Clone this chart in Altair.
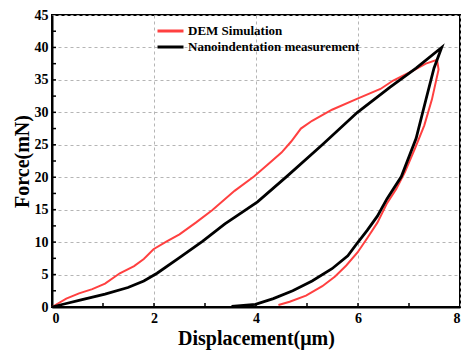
import altair as alt
import pandas as pd

# DEM simulation curve (loading then unloading), displacement (µm) / force (mN)
red_x = [0, 0.28, 0.53, 0.79, 1.04, 1.33, 1.61, 1.80, 1.99, 2.25, 2.5, 2.82, 3.14, 3.58,
         3.96, 4.22, 4.5, 4.69, 4.88, 5.1, 5.49, 5.99, 6.44, 6.69, 7.0, 7.33, 7.55,
         7.58, 7.45, 7.3, 7.12, 6.92, 6.75, 6.57, 6.38, 6.18, 5.99, 5.77, 5.55, 5.3,
         4.98, 4.66, 4.44]
red_y = [0, 1.28, 2.1, 2.75, 3.6, 5.2, 6.3, 7.4, 8.9, 10.1, 11.2, 13.0, 14.9, 17.9,
         20.1, 21.9, 23.8, 25.5, 27.5, 28.7, 30.4, 32.1, 33.6, 34.9, 36.1, 37.5, 38.1,
         36.6, 32.0, 28.0, 24.5, 20.8, 18.2, 16.0, 13.0, 10.6, 8.4, 6.4, 4.7, 3.2,
         1.76, 0.8, 0.3]

# Nanoindentation measurement curve
blk_x = [0, 0.28, 0.53, 1.04, 1.49, 1.8, 2.06, 2.5, 2.95, 3.39, 3.58, 4.03, 4.6, 5.3,
         5.99, 6.63, 7.14, 7.64, 7.49, 7.33, 7.14, 6.85, 6.57, 6.38, 6.18, 5.99, 5.8,
         5.49, 5.1, 4.72, 4.34, 3.99, 3.52]
blk_y = [0, 0.54, 1.03, 2.0, 3.0, 4.0, 5.2, 7.6, 10.1, 12.8, 13.8, 16.2, 20.1, 25.0,
         30.0, 33.9, 36.8, 40.0, 36.8, 31.9, 26.0, 20.1, 16.7, 14.0, 11.8, 9.9, 7.9,
         5.9, 4.0, 2.5, 1.3, 0.4, 0.1]

series = ["DEM Simulation", "Nanoindentation measurement"]
colors = ["#ff4040", "#000000"]

x_ticks = [0, 2, 4, 6, 8]
y_ticks = [0, 5, 10, 15, 20, 25, 30, 35, 40, 45]
x_minor = [1, 2, 3, 4, 5, 6, 7]
y_minor = [2.5, 5, 7.5, 10, 12.5, 15, 17.5, 20, 22.5, 25, 27.5, 30, 32.5, 35, 37.5, 40, 42.5]

W, H = 408, 292
FONT = "Liberation Serif"

red_df = pd.DataFrame({"x": red_x, "y": red_y, "i": range(len(red_x)), "s": series[0]})
blk_df = pd.DataFrame({"x": blk_x, "y": blk_y, "i": range(len(blk_x)), "s": series[1]})

xs = alt.Scale(domain=[0, 8], nice=False)
ys = alt.Scale(domain=[0, 45], nice=False)

xaxis = alt.Axis(values=x_ticks, format="d", title="Displacement(μm)", grid=True,
                 ticks=False, labelPadding=4, titlePadding=3, labelOverlap=False)
yaxis = alt.Axis(values=y_ticks, format="d", title="Force(mN)", grid=True,
                 ticks=False, labelPadding=4, titlePadding=2, labelOverlap=False)

color = alt.Color("s:N", scale=alt.Scale(domain=series, range=colors),
                  legend=alt.Legend(title=None, orient="none", legendX=104, legendY=8,
                                    symbolType="stroke", symbolSize=676,
                                    symbolStrokeWidth=3, clipHeight=16, rowPadding=0,
                                    labelFont=FONT, labelFontSize=13, labelFontWeight="bold",
                                    labelColor="#000", padding=0, labelOffset=3,
                                    labelLimit=400))

red = alt.Chart(red_df).mark_line(strokeWidth=2).encode(
    x=alt.X("x:Q", scale=xs, axis=xaxis),
    y=alt.Y("y:Q", scale=ys, axis=yaxis),
    order="i:Q", color=color)

blk = alt.Chart(blk_df).mark_line(strokeWidth=2.8).encode(
    x=alt.X("x:Q", scale=xs, axis=xaxis), y=alt.Y("y:Q", scale=ys, axis=yaxis),
    order="i:Q", color=color)

xt = alt.Chart(pd.DataFrame({"t": x_minor})).mark_rule(color="black", strokeWidth=1.5).encode(
    x=alt.X("t:Q", scale=xs, axis=xaxis), y=alt.value(H), y2=alt.value(H - 4))
yt = alt.Chart(pd.DataFrame({"t": y_minor})).mark_rule(color="black", strokeWidth=1.5).encode(
    y=alt.Y("t:Q", scale=ys, axis=yaxis), x=alt.value(0), x2=alt.value(4))

chart = alt.layer(red, blk, xt, yt).properties(
    width=W, height=H,
    autosize=alt.AutoSizeParams(type="none"),
    padding={"left": 44, "top": 7, "right": 2, "bottom": 45},
).configure_view(stroke="black", strokeWidth=2).configure_axis(
    labelFont=FONT, labelFontSize=14, labelFontWeight="bold", labelColor="#000",
    titleFont=FONT, titleFontSize=20, titleFontWeight="bold", titleColor="#000",
    domainColor="black", domainWidth=2,
    gridColor="#b5b5b5", gridDash=[3, 3], gridWidth=1,
)

chart.save("out.html", embed_options={"renderer": "svg", "actions": False})
